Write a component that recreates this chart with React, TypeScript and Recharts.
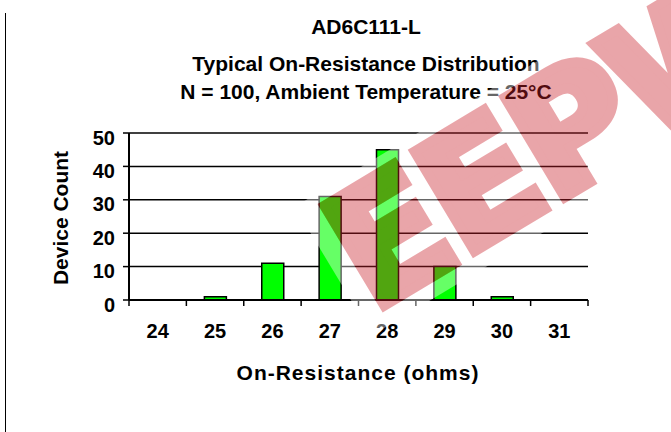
import React from 'react';
import { BarChart, Bar, XAxis, YAxis, CartesianGrid } from 'recharts';

const categories = ['24', '25', '26', '27', '28', '29', '30', '31'];
const deviceCounts = [0, 1, 11, 31, 45, 10, 1, 0];
const yTicks = [0, 10, 20, 30, 40, 50];

const data = categories.map((c, i) => ({ ohms: c, count: deviceCounts[i] }));

const W = 671;
const H = 432;
const PLOT_LEFT = 129;
const PLOT_RIGHT = 588;
const PLOT_TOP = 133;
const PLOT_BOTTOM = 300;
const BAND = (PLOT_RIGHT - PLOT_LEFT) / categories.length;
const FONT = 'Arial, "Liberation Sans", sans-serif';
const MARK_FONT = '"DejaVu Sans", sans-serif';

function XTick(props: any) {
  const { x, payload, index } = props;
  return (
    <g>
      <line x1={x - BAND / 2} x2={x - BAND / 2} y1={PLOT_BOTTOM} y2={PLOT_BOTTOM + 6} stroke="#000" strokeWidth={1.5} />
      {index === categories.length - 1 && (
        <line x1={x + BAND / 2} x2={x + BAND / 2} y1={PLOT_BOTTOM} y2={PLOT_BOTTOM + 6} stroke="#000" strokeWidth={1.5} />
      )}
      <text x={x} y={338} textAnchor="middle" fontFamily={FONT} fontWeight="bold" fontSize={20} fill="#000">
        {payload.value}
      </text>
    </g>
  );
}

function YTick(props: any) {
  const { y, payload } = props;
  return (
    <text x={115} y={y + 11.5} textAnchor="end" fontFamily={FONT} fontWeight="bold" fontSize={20} fill="#000">
      {payload.value}
    </text>
  );
}

export default function App() {
  return (
    <div style={{ position: 'absolute', left: 0, top: 0, width: W, height: H, background: '#fff' }}>
      <BarChart
        width={W}
        height={H}
        data={data}
        margin={{ top: PLOT_TOP, right: W - PLOT_RIGHT, bottom: H - PLOT_BOTTOM - 30, left: PLOT_LEFT - 60 }}
        barCategoryGap={0}
      >
        <CartesianGrid vertical={false} stroke="#000" strokeWidth={1.5} />
        <XAxis
          dataKey="ohms"
          height={30}
          interval={0}
          tick={<XTick />}
          tickLine={false}
          axisLine={{ stroke: '#000', strokeWidth: 2 }}
        />
        <YAxis
          width={60}
          domain={[0, 50]}
          ticks={yTicks}
          interval={0}
          tick={<YTick />}
          tickSize={6}
          tickLine={{ stroke: '#000', strokeWidth: 1.5 }}
          axisLine={{ stroke: '#000', strokeWidth: 2 }}
        />
        <Bar dataKey="count" fill="#00ff00" stroke="#000" strokeWidth={1.5} barSize={22} isAnimationActive={false} />
      </BarChart>
      <svg
        width={W}
        height={H}
        style={{ position: 'absolute', left: 0, top: 0, pointerEvents: 'none' }}
      >
        <defs>
          <mask id="wm-cut" maskUnits="userSpaceOnUse" x={-200} y={-400} width={1200} height={800}>
            <rect x={-200} y={-400} width={1200} height={800} fill="#fff" />
            <text x={-9} y={-5} fontFamily={MARK_FONT} fontWeight="bold" fontSize={160} letterSpacing={-4}
              fill="#000" stroke="#000" strokeWidth={10} strokeLinejoin="miter">
              EEPW
            </text>
          </mask>
        </defs>
        <line x1={5.5} x2={5.5} y1={13} y2={H} stroke="#000" strokeWidth={1} />
        <g fontFamily={FONT} fontWeight="bold" fill="#000" textAnchor="middle">
          <text x={366} y={34} fontSize={21}>AD6C111-L</text>
          <text x={366} y={71} fontSize={21}>Typical On-Resistance Distribution</text>
          <text x={366} y={98.5} fontSize={21}>N = 100, Ambient Temperature = 25°C</text>
          <text x={358} y={380} fontSize={21} letterSpacing={1}>On-Resistance (ohms)</text>
          <text transform="translate(68,218) rotate(-90)" x={0} y={0} fontSize={21}>Device Count</text>
        </g>
        <g transform="translate(382,313) rotate(-31)">
          <rect x={-20} y={-136} width={700} height={150} fill="#fff" opacity={0.4} mask="url(#wm-cut)" />
          <g opacity={0.4}>
            <text x={-9} y={-5} fontFamily={MARK_FONT} fontWeight="bold" fontSize={160} letterSpacing={-4}
              fill="#ca202a" stroke="#ca202a" strokeWidth={10} strokeLinejoin="miter">
              EEPW
            </text>
          </g>
        </g>
      </svg>
    </div>
  );
}
